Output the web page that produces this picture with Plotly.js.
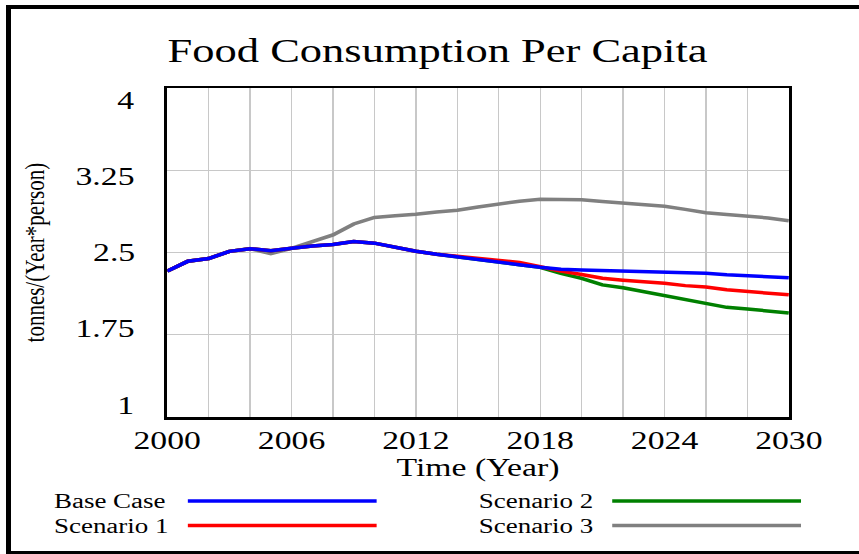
<!DOCTYPE html>
<html>
<head>
<meta charset="utf-8">
<script src="https://cdn.plot.ly/plotly-3.0.1.min.js"></script>
<style>
  html, body { margin: 0; padding: 0; background: #ffffff; overflow: hidden; width: 859px; height: 554px; }
  #frame {
    position: absolute; left: 6px; top: 5px; width: 1000px; height: 550px;
    box-sizing: border-box; border: 4px solid #000; border-left-width: 5px; background: #fff;
  }
  #chart {
    position: absolute; left: 0; top: 0; width: 637px; height: 554px;
    transform: scaleX(1.3485); transform-origin: 0 0;
  }
</style>
</head>
<body>
<div id="frame"></div>
<div id="chart"></div>
<script>
// Food consumption per capita, tonnes/(Year*person), 2000-2030
const years = [2000, 2001, 2002, 2003, 2004, 2005, 2006, 2007, 2008, 2009, 2010,
               2011, 2012, 2013, 2014, 2015, 2016, 2017, 2018, 2019, 2020,
               2021, 2022, 2023, 2024, 2025, 2026, 2027, 2028, 2029, 2030];

const baseCase = [2.33, 2.42, 2.445, 2.51, 2.535, 2.517, 2.538, 2.56, 2.573, 2.6, 2.585,
                  2.548, 2.512, 2.484, 2.462, 2.438, 2.413, 2.389, 2.365, 2.347, 2.34,
                  2.336, 2.33, 2.328, 2.324, 2.318, 2.31, 2.297, 2.288, 2.28, 2.27];

const scenario1 = [2.33, 2.42, 2.445, 2.51, 2.535, 2.517, 2.538, 2.56, 2.573, 2.6, 2.585,
                   2.548, 2.512, 2.484, 2.466, 2.446, 2.43, 2.41, 2.37, 2.33, 2.3,
                   2.265, 2.248, 2.235, 2.219, 2.198, 2.185, 2.16, 2.145, 2.13, 2.114];

const scenario2 = [2.33, 2.42, 2.445, 2.51, 2.535, 2.517, 2.538, 2.56, 2.573, 2.6, 2.585,
                   2.548, 2.512, 2.484, 2.462, 2.438, 2.413, 2.389, 2.365, 2.31, 2.265,
                   2.205, 2.178, 2.143, 2.103, 2.065, 2.03, 2.0, 1.985, 1.967, 1.948];

const scenario3 = [2.33, 2.42, 2.445, 2.51, 2.535, 2.49, 2.538, 2.6, 2.66, 2.76, 2.82,
                   2.835, 2.848, 2.87, 2.885, 2.915, 2.945, 2.968, 2.985, 2.985, 2.98,
                   2.965, 2.952, 2.94, 2.922, 2.893, 2.862, 2.847, 2.833, 2.815, 2.79];

const seriesNames = ["Base Case", "Scenario 1", "Scenario 2", "Scenario 3"];
const seriesValues = [baseCase, scenario1, scenario2, scenario3];
const seriesColors = ["#0000ff", "#ff0000", "#008000", "#808080"];

const gridYears = [2000, 2002, 2004, 2006, 2008, 2010, 2012, 2014,
                   2016, 2018, 2020, 2022, 2024, 2026, 2028, 2030];
const xTickVals = [2000, 2006, 2012, 2018, 2024, 2030];
const xTickText = ["2000", "2006", "2012", "2018", "2024", "2030"];
const yTickVals = [1, 1.75, 2.5, 3.25, 4];
const yTickText = ["1", "1.75", "2.5", "3.25", "4"];

const chartTitle = "Food Consumption Per Capita";
const xTitle = "Time (Year)";
const yTitle = "tonnes/(Year*person)";

// page geometry (unscaled Plotly pixels)
const W = 637, H = 554;
const M = { l: 124, r: 52, t: 88, b: 137 };
const plotW = W - M.l - M.r, plotH = H - M.t - M.b;
const pxX = px => (px - M.l) / plotW;          // page px -> paper x
const pxY = py => (H - M.b - py) / plotH;      // page px -> paper y

const serif = "Liberation Serif, Times New Roman, serif";

// drawn back to front so the base case sits on top
const traces = [3, 2, 1, 0].map(i => ({
  type: "scatter",
  mode: "lines",
  name: seriesNames[i],
  x: years,
  y: seriesValues[i],
  line: { color: seriesColors[i], width: 3.5 },
  hoverinfo: "x+y+name"
}));

// a grid line every two years, labelled every six
const xGridText = gridYears.map(g => {
  const k = xTickVals.indexOf(g);
  return k >= 0 ? xTickText[k] : "";
});

// y tick labels spread evenly over the axis, Vensim style
const annotations = yTickVals.map((v, k) => ({
  xref: "paper", yref: "y", x: 0, y: v,
  xanchor: "right", yanchor: "middle",
  xshift: -22, yshift: (v - 2.5) / 1.5 * -12,
  text: yTickText[k], showarrow: false,
  font: { family: serif, size: 25, color: "#000" }
}));

// y axis title
annotations.push({
  xref: "paper", yref: "paper", x: pxX(25), y: 0.5,
  xanchor: "center", yanchor: "middle", textangle: -90,
  text: yTitle, showarrow: false,
  font: { family: serif, size: 21, color: "#000" }
});

// legend: label then sample line, two columns
const legendCols = [37.5, 352.5];
const legendLineStart = [139.3, 454];
const legendLineLen = 140;
const legendRows = [501, 525.5];
const shapes = [];
seriesNames.forEach((name, i) => {
  const col = Math.floor(i / 2), row = i % 2;
  annotations.push({
    xref: "paper", yref: "paper", x: pxX(legendCols[col]), y: pxY(legendRows[row]),
    xanchor: "left", yanchor: "middle", text: name, showarrow: false,
    font: { family: serif, size: 20, color: "#000" }
  });
  shapes.push({
    type: "line", xref: "paper", yref: "paper",
    x0: pxX(legendLineStart[col]), x1: pxX(legendLineStart[col] + legendLineLen),
    y0: pxY(legendRows[row]), y1: pxY(legendRows[row]),
    line: { color: seriesColors[i], width: 3.5 }
  });
});

const gridColor = "#c8c8c8";

const layout = {
  width: W, height: H,
  margin: M,
  paper_bgcolor: "rgba(0,0,0,0)",
  plot_bgcolor: "#ffffff",
  showlegend: false,
  title: {
    text: chartTitle,
    font: { family: serif, size: 33, color: "#000" },
    xref: "container", x: 324.5 / W, xanchor: "center",
    yref: "container", y: 1 - 50 / H, yanchor: "middle"
  },
  xaxis: {
    range: [2000, 2030],
    tickmode: "array", tickvals: gridYears, ticktext: xGridText,
    ticks: "", ticklabelstandoff: 0,
    tickfont: { family: serif, size: 25, color: "#000" },
    showgrid: true, gridcolor: gridColor, gridwidth: 1,
    showline: true, linecolor: "#000", linewidth: 2.5, mirror: true,
    zeroline: false, fixedrange: true,
    title: { text: xTitle, font: { family: serif, size: 25, color: "#000" }, standoff: 2 },
    automargin: false
  },
  yaxis: {
    range: [1, 4],
    tickvals: yTickVals, ticktext: yTickText,
    showticklabels: false, ticks: "",
    showgrid: true, gridcolor: gridColor, gridwidth: 1,
    showline: true, linecolor: "#000", linewidth: 2.5, mirror: true,
    zeroline: false, fixedrange: true,
    automargin: false
  },
  annotations: annotations,
  shapes: shapes
};

Plotly.newPlot("chart", traces, layout, { displayModeBar: false, staticPlot: true });
</script>
</body>
</html>
